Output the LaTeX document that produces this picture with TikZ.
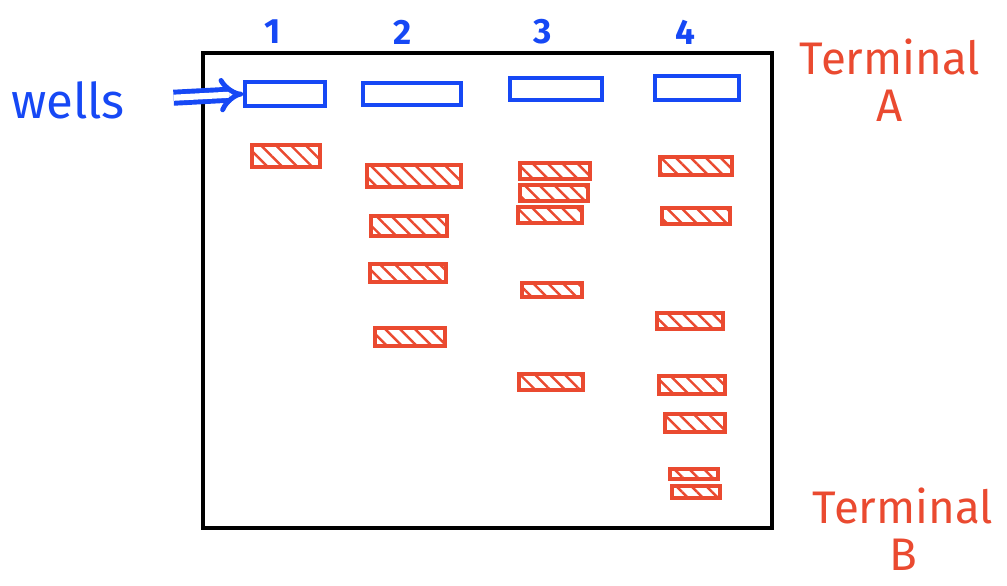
\documentclass[tikz,border=0pt]{standalone}
\usepackage{fontspec}
\setmainfont{Fira Sans}
\usetikzlibrary{arrows.meta,patterns.meta}
\newlength{\pxu}
\setlength{\pxu}{0.02cm}
\definecolor{gelblue}{RGB}{22,72,245}
\definecolor{gelred}{RGB}{234,74,48}

\begin{document}
\begin{tikzpicture}[
    x=0.02cm, y=-0.02cm,
    well/.style={rectangle, draw=gelblue, line width=2.2pt, inner sep=0pt},
    band/.style={rectangle, draw=gelred, line width=2pt, inner sep=0pt,
        pattern={Lines[angle=-45,distance=6pt,line width=1.4pt]}, pattern color=gelred},
    lane/.style={text=gelblue, font=\fontsize{20}{20}\selectfont\bfseries},
    terminal/.style={text=gelred, align=center, font=\fontsize{26}{27}\selectfont},
    arrow/.style={-{Implies}, double, draw=gelblue, line width=2.8pt, double distance=3.5pt}
]
\useasboundingbox (0,0) rectangle (1007,585);
% gel
\node[draw=black, line width=1.8pt, minimum width=569\pxu, minimum height=475\pxu] (gel) at (487.5,290.5) {};
% lane numbers
\node[lane] (n1) at (273,32) {1};
\node[lane] (n2) at (403,32) {2};
\node[lane] (n3) at (543,32) {3};
\node[lane] (n4) at (685,32) {4};
% wells
\node[well, minimum width=80\pxu, minimum height=24\pxu] (w1) at (285,94) {};
\node[well, minimum width=98\pxu, minimum height=22\pxu] (w2) at (412,94) {};
\node[well, minimum width=92\pxu, minimum height=22\pxu] (w3) at (556,89) {};
\node[well, minimum width=84\pxu, minimum height=24\pxu] (w4) at (697,88) {};
\node[text=gelblue, font=\fontsize{28}{28}\selectfont] (wells) at (68,100) {wells};
\draw[arrow, shorten <=0.85cm] (wells.east) -- (w1.west);
% bands, lane 1 and 2
\node[band, minimum width=68\pxu, minimum height=22\pxu] (b11) at (286,156) {};
\node[band, minimum width=94\pxu, minimum height=22\pxu] (b21) at (414,176) {};
\node[band, minimum width=76\pxu, minimum height=20\pxu] (b22) at (409,226) {};
\node[band, minimum width=76\pxu, minimum height=18\pxu] (b23) at (408,273) {};
\node[band, minimum width=70\pxu, minimum height=18\pxu] (b24) at (410,337) {};
% bands, lane 3
\node[band, minimum width=70\pxu, minimum height=16\pxu] (b31) at (555,171) {};
\node[band, minimum width=68\pxu, minimum height=16\pxu] (b32) at (554,193) {};
\node[band, minimum width=64\pxu, minimum height=16\pxu] (b33) at (550,215) {};
\node[band, minimum width=60\pxu, minimum height=14\pxu] (b34) at (552,290) {};
\node[band, minimum width=64\pxu, minimum height=16\pxu] (b35) at (551,382) {};
% bands, lane 4
\node[band, minimum width=72\pxu, minimum height=18\pxu] (b41) at (696,166) {};
\node[band, minimum width=68\pxu, minimum height=16\pxu] (b42) at (696,216) {};
\node[band, minimum width=66\pxu, minimum height=16\pxu] (b43) at (690,321) {};
\node[band, minimum width=66\pxu, minimum height=18\pxu] (b44) at (692,385) {};
\node[band, minimum width=60\pxu, minimum height=18\pxu] (b45) at (695,423) {};
\node[band, minimum width=48\pxu, minimum height=10\pxu] (b46) at (694,474) {};
\node[band, minimum width=48\pxu, minimum height=12\pxu] (b47) at (696,492) {};
% terminals
\node[terminal] (ta) at (890,80) {Terminal\\A};
\node[terminal] (tb) at (903,529) {Terminal\\B};
\end{tikzpicture}
\end{document}
